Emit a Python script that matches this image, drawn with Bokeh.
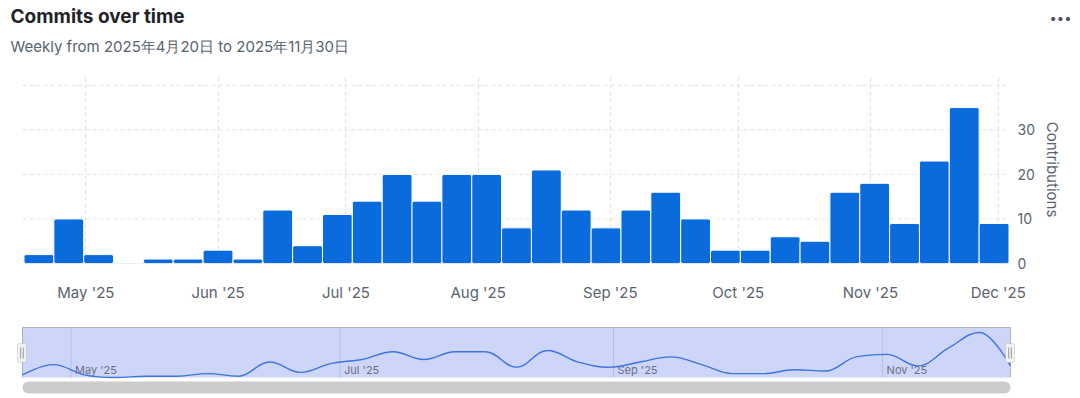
import datetime as dt
from bokeh.plotting import figure
from bokeh.layouts import column
from bokeh.models import Range1d, FixedTicker, Label, BoxAnnotation
from bokeh.embed import file_html
from bokeh.resources import INLINE
from bokeh.core.properties import value

# ---------------- data ----------------
title_text = "Commits over time"
subtitle_text = "Weekly from 2025年4月20日 to 2025年11月30日"
y_axis_title = "Contributions"
menu_text = "•••"

week_starts = [
    "2025-04-20", "2025-04-27", "2025-05-04", "2025-05-11", "2025-05-18",
    "2025-05-25", "2025-06-01", "2025-06-08", "2025-06-15", "2025-06-22",
    "2025-06-29", "2025-07-06", "2025-07-13", "2025-07-20", "2025-07-27",
    "2025-08-03", "2025-08-10", "2025-08-17", "2025-08-24", "2025-08-31",
    "2025-09-07", "2025-09-14", "2025-09-21", "2025-09-28", "2025-10-05",
    "2025-10-12", "2025-10-19", "2025-10-26", "2025-11-02", "2025-11-09",
    "2025-11-16", "2025-11-23", "2025-11-30",
]
commits = [2, 10, 2, 0, 1, 1, 3, 1, 12, 4, 11, 14, 20, 14, 20, 20, 8, 21,
           12, 8, 12, 16, 10, 3, 3, 6, 5, 16, 18, 9, 23, 35, 9]

month_ticks = ["2025-05-01", "2025-06-01", "2025-07-01", "2025-08-01",
               "2025-09-01", "2025-10-01", "2025-11-01", "2025-12-01"]
month_labels = ["May '25", "Jun '25", "Jul '25", "Aug '25",
                "Sep '25", "Oct '25", "Nov '25", "Dec '25"]
nav_ticks = ["2025-05-01", "2025-07-01", "2025-09-01", "2025-11-01"]
nav_labels = ["May '25", "Jul '25", "Sep '25", "Nov '25"]
y_ticks = [0, 10, 20, 30]
y_grid = [10, 20, 30, 40]

# ---------------- helpers / style ----------------
DAY = 86400000.0


def ms(s):
    return dt.datetime.fromisoformat(s).replace(tzinfo=dt.timezone.utc).timestamp() * 1000.0


xs = [ms(s) for s in week_starts]
FONT_NAME = "Inter"
FONT = value(FONT_NAME)
BLUE = "#0a6cdc"
TEXT = "#59636e"
W = 1080
BL, BR = 8, 64             # shared left / right borders (frames are aligned in a column)
FL, FR = BL, W - BR        # frame left / right in page pixels

# ---------------- header ----------------
HEAD_H = 68
head = figure(width=W, height=HEAD_H, x_range=Range1d(FL, FR), y_range=Range1d(HEAD_H, 0),
              x_axis_location=None, y_axis_location="right",
              min_border_left=BL, min_border_right=BR, min_border_top=0, min_border_bottom=0,
              output_backend="svg", toolbar_location=None)
head.outline_line_color = None
head.grid.visible = False
head.add_layout(Label(x=10, y=16, text=title_text, text_font=FONT_NAME, text_font_size="19px",
                      text_font_style="bold", text_color="#1f2328", text_baseline="middle",
                      text_align="left"))
head.add_layout(Label(x=10, y=46, text=subtitle_text, text_font=FONT_NAME, text_font_size="15px",
                      text_color=TEXT, text_baseline="middle", text_align="left"))
hax = head.yaxis[0]
hax.ticker = FixedTicker(ticks=[17])
hax.major_label_overrides = {17: menu_text}
hax.axis_line_color = None
hax.major_tick_line_color = None
hax.minor_tick_line_color = None
hax.major_tick_out = 0
hax.major_tick_in = 0
hax.major_label_standoff = 33
hax.major_label_text_font = FONT_NAME
hax.major_label_text_font_size = "13px"
hax.major_label_text_color = "#4b535c"

# ---------------- main chart ----------------
MAIN_H = 242
BAR_L, BAR_R = 23.5, 1008.5    # page x of the outer bar edges
ppx_main = (BAR_R - BAR_L) / (xs[-1] - xs[0] + 7 * DAY)
x_lo = xs[0] - 3.5 * DAY
x_hi = xs[-1] + 3.5 * DAY
p = figure(width=W, height=MAIN_H,
           x_range=Range1d(x_lo - (BAR_L - FL) / ppx_main, x_hi + (FR - BAR_R) / ppx_main),
           y_range=Range1d(0, 42.2),
           y_axis_location="right",
           min_border_left=BL, min_border_right=BR, min_border_top=7, min_border_bottom=47,
           output_backend="svg", toolbar_location=None)
p.outline_line_color = None

# horizontal dashed grid lines and base line, spanning the bar area only
p.segment(x0=[x_lo - 1.5 / ppx_main] * len(y_grid), y0=y_grid,
          x1=[x_hi] * len(y_grid), y1=y_grid,
          line_color="#e3e3e3", line_width=1, line_dash="4 3")
p.vbar(x=xs, top=commits, bottom=0, width=7 * DAY, fill_color=BLUE,
       line_color="white", line_width=1, border_radius=2)
p.segment(x0=[x_lo - 0.5 / ppx_main], y0=[0], x1=[x_hi], y1=[0],
          line_color="#d9dde2", line_width=1)

tick_ms = [ms(s) for s in month_ticks]
xax = p.xaxis[0]
xax.ticker = FixedTicker(ticks=tick_ms)
xax.major_label_overrides = {t: l for t, l in zip(tick_ms, month_labels)}
xax.major_tick_line_color = None
xax.minor_tick_line_color = None
xax.axis_line_color = None
xax.major_label_standoff = 13
xax.major_label_text_font = FONT_NAME
xax.major_label_text_font_size = "15px"
xax.major_label_text_color = TEXT

yax = p.yaxis[0]
yax.ticker = FixedTicker(ticks=y_ticks)
yax.axis_line_color = None
yax.major_tick_line_color = None
yax.minor_tick_line_color = None
yax.major_tick_out = 0
yax.major_tick_in = 0
yax.major_label_standoff = 1
yax.major_label_text_font = FONT_NAME
yax.major_label_text_font_size = "14px"
yax.major_label_text_color = TEXT
yax.axis_label = y_axis_title
yax.axis_label_standoff = 5
yax.axis_label_text_font = FONT_NAME
yax.axis_label_text_font_size = "15px"
yax.axis_label_text_font_style = "normal"
yax.axis_label_text_color = TEXT

p.xgrid.ticker = FixedTicker(ticks=tick_ms)
p.xgrid.grid_line_color = "#e0e0e0"
p.xgrid.grid_line_dash = "4 3"
p.ygrid.visible = False

# ---------------- navigator ----------------
NAV_H = 88
NX0, NX1 = 22.0, 1010.0          # page x of first / last week in the navigator
NY_TOP, NY_BOT = 17.0, 67.0      # pixel rows of the navigator area inside this figure
ppx = (NX1 - NX0) / (xs[-1] - xs[0])
nav_ymax = max(commits) * 1.11
ppy = (NY_BOT - NY_TOP) / nav_ymax
nav = figure(width=W, height=NAV_H,
             x_range=Range1d(xs[0] - (NX0 - FL) / ppx, xs[-1] + (FR - NX1) / ppx),
             y_range=Range1d(-(NAV_H - NY_BOT) / ppy, NY_BOT / ppy),
             x_axis_location=None, y_axis_location=None,
             min_border_left=BL, min_border_right=BR, min_border_top=0, min_border_bottom=0,
             output_backend="svg", toolbar_location=None)
nav.outline_line_color = None
nav.grid.visible = False


def dx(page_x):
    return xs[0] + (page_x - NX0) / ppx


def dy(row):
    return (NY_BOT - row) / ppy


# mask area
nav.quad(left=[xs[0]], right=[xs[-1]], bottom=[0], top=[nav_ymax],
         fill_color="#cdd6f9", line_color=None)
# month grid lines + labels
nt = [ms(s) for s in nav_ticks]
nav.segment(x0=nt, y0=[0] * len(nt), x1=nt, y1=[nav_ymax] * len(nt),
            line_color="#b6bfe8", line_width=1)
nav.text(x=[t + 4 / ppx for t in nt], y=[dy(59.5)] * len(nt), text=nav_labels,
         text_font=FONT, text_font_size="11px", text_color="#6a6f80",
         text_baseline="middle")
# outline
nav.line(x=[xs[0], xs[0], xs[-1], xs[-1]], y=[0, nav_ymax, nav_ymax, 0],
         line_color="#aeb2bb", line_width=1)


# smoothed series (Highcharts-like spline through the weekly values)
def spline_controls(px, py, smoothing=1.5):
    n = len(px)
    left = [(px[i], py[i]) for i in range(n)]
    right = [(px[i], py[i]) for i in range(n)]
    d = smoothing + 1
    for i in range(1, n - 1):
        x, y = px[i], py[i]
        lx, ly = px[i - 1], py[i - 1]
        nx, ny = px[i + 1], py[i + 1]
        lcx = (smoothing * x + lx) / d
        lcy = (smoothing * y + ly) / d
        rcx = (smoothing * x + nx) / d
        rcy = (smoothing * y + ny) / d
        if rcx != lcx:
            corr = ((rcy - lcy) * (rcx - x)) / (rcx - lcx) + y - rcy
            lcy += corr
            rcy += corr
        if lcy > ly and lcy > y:
            lcy = max(ly, y); rcy = 2 * y - lcy
        elif lcy < ly and lcy < y:
            lcy = min(ly, y); rcy = 2 * y - lcy
        if rcy > ny and rcy > y:
            rcy = max(ny, y); lcy = 2 * y - rcy
        elif rcy < ny and rcy < y:
            rcy = min(ny, y); lcy = 2 * y - rcy
        left[i] = (lcx, lcy)
        right[i] = (rcx, rcy)
    return left, right


lc, rc = spline_controls(xs, commits)
nav.bezier(x0=xs[:-1], y0=commits[:-1], x1=xs[1:], y1=commits[1:],
           cx0=[c[0] for c in rc[:-1]], cy0=[c[1] for c in rc[:-1]],
           cx1=[c[0] for c in lc[1:]], cy1=[c[1] for c in lc[1:]],
           line_color="#3b74dc", line_width=1.4)

# scrollbar
nav.segment(x0=[dx(NX0 + 6)], y0=[dy(77)], x1=[dx(NX1 - 6)], y1=[dy(77)],
            line_color="#cccccc", line_width=12, line_cap="round")

# handles
for hc in (21.5, 1009.5):
    nav.add_layout(BoxAnnotation(left=dx(hc - 4.5), right=dx(hc + 4.5), top=dy(33), bottom=dy(52),
                                 fill_color="#f2f2f2", fill_alpha=1, line_color="#9a9a9a",
                                 line_width=1, border_radius=2))
    for off in (-1.3, 1.3):
        nav.add_layout(BoxAnnotation(left=dx(hc + off - 0.5), right=dx(hc + off + 0.5),
                                     top=dy(37), bottom=dy(48), fill_color="#9a9a9a",
                                     fill_alpha=1, line_color=None))

layout = column(head, p, nav, spacing=0)
open("out.html", "w").write(file_html(layout, INLINE))
